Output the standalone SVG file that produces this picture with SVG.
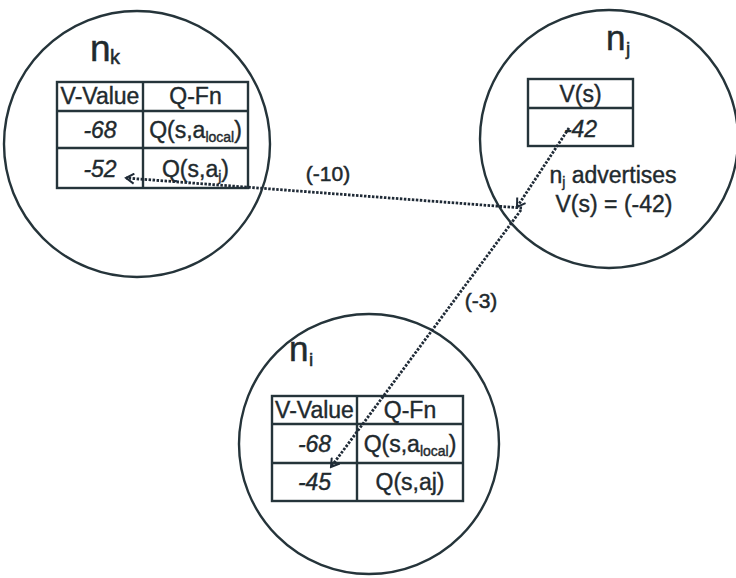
<svg xmlns="http://www.w3.org/2000/svg" width="736" height="578" viewBox="0 0 736 578">
<style>
.c{fill:none;stroke:#25343a;stroke-width:2.4}
.t{fill:none;stroke:#25343a;stroke-width:2.4}
.tx{font-family:"Liberation Sans",Arial,sans-serif;font-size:23px;fill:#1f2a2e;stroke:#1f2a2e;stroke-width:0.4;text-anchor:middle}
.it{font-style:italic}
.lb{font-family:"Liberation Sans",Arial,sans-serif;fill:#1f2a2e;stroke:#1f2a2e;stroke-width:0.5}
.sub{font-size:14px}
.conn{fill:none;stroke:#1f2a36;stroke-width:2.8;stroke-dasharray:2.5 1.5}
</style>
<defs>
<marker id="ah" markerWidth="12" markerHeight="12" refX="10" refY="6" orient="auto" markerUnits="userSpaceOnUse">
<path d="M2,1 L10,6 L2,11" fill="none" stroke="#1f2a36" stroke-width="2"/>
</marker>
</defs>
<rect width="736" height="578" fill="#ffffff"/>

<g id="nk">
<circle class="c" cx="137" cy="144" r="133"/>
<text class="lb" x="90" y="61" font-size="37">n</text>
<text class="lb" x="110" y="64" font-size="20">k</text>
<rect class="t" x="57" y="82" width="191" height="106"/>
<line class="t" x1="57" y1="111" x2="248" y2="111"/>
<line class="t" x1="57" y1="148" x2="248" y2="148"/>
<line class="t" x1="143" y1="82" x2="143" y2="188"/>
<text class="tx" x="100" y="104">V-Value</text>
<text class="tx" x="195.5" y="104">Q-Fn</text>
<text class="tx it" x="100" y="138">-68</text>
<text class="tx" x="195.5" y="138">Q(s,a<tspan class="sub" dy="4">local</tspan><tspan dy="-4">)</tspan></text>
<text class="tx it" x="100" y="177">-52</text>
<text class="tx" x="195.5" y="177">Q(s,a<tspan class="sub" dy="4">j</tspan><tspan dy="-4">)</tspan></text>
</g>

<g id="nj">
<circle class="c" cx="609" cy="139" r="129"/>
<text class="lb" x="606" y="50" font-size="35">n</text>
<text class="lb" x="626" y="55" font-size="19">j</text>
<rect class="t" x="528" y="79" width="105" height="67"/>
<line class="t" x1="528" y1="108" x2="633" y2="108"/>
<text class="tx" x="580.5" y="102">V(s)</text>
<text class="tx it" x="580.5" y="137">-42</text>
<text class="tx" x="613" y="183">n<tspan class="sub" dy="4">j</tspan><tspan dy="-4"> advertises</tspan></text>
<text class="tx" x="614" y="212">V(s) = (-42)</text>
</g>

<g id="ni">
<circle class="c" cx="369" cy="444" r="130"/>
<text class="lb" x="289" y="361" font-size="35">n</text>
<text class="lb" x="309" y="366" font-size="19">i</text>
<rect class="t" x="272" y="396" width="191" height="105"/>
<line class="t" x1="272" y1="424" x2="463" y2="424"/>
<line class="t" x1="272" y1="463" x2="463" y2="463"/>
<line class="t" x1="357" y1="396" x2="357" y2="501"/>
<text class="tx" x="314.5" y="418">V-Value</text>
<text class="tx" x="410" y="418">Q-Fn</text>
<text class="tx it" x="314.5" y="452">-68</text>
<text class="tx" x="410" y="452">Q(s,a<tspan class="sub" dy="4">local</tspan><tspan dy="-4">)</tspan></text>
<text class="tx it" x="314.5" y="490">-45</text>
<text class="tx" x="410" y="490">Q(s,aj)</text>
</g>

<g id="connectors">
<line class="conn" x1="569" y1="128" x2="517" y2="207" marker-end="url(#ah)"/>
<line class="conn" x1="522" y1="208" x2="126" y2="178" marker-end="url(#ah)"/>
<line class="conn" x1="521" y1="210" x2="331" y2="467" marker-end="url(#ah)"/>
<text class="lb" x="328" y="181" font-size="21" text-anchor="middle">(-10)</text>
<text class="lb" x="481" y="308" font-size="21" text-anchor="middle">(-3)</text>
</g>
</svg>
